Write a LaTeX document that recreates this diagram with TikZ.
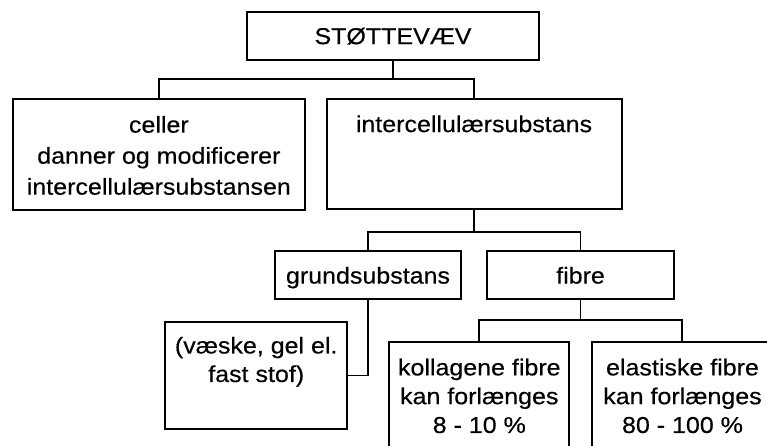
\documentclass[tikz,border=0pt]{standalone}
\usepackage{fontspec}
\setmainfont{Liberation Sans}[FakeStretch=1.087,FakeBold=0.4]
\begin{document}
\begin{tikzpicture}[x=1pt,y=-1pt,
  box/.style={draw, line width=1.8pt, rectangle, inner sep=0pt},
  onebox/.style={box, font=\fontsize{23}{28}\selectfont, text height=16.5pt, text depth=0pt},
  txt/.style={inner sep=0pt, anchor=north, align=center},
  link/.style={line width=1.8pt}]
\useasboundingbox (0,0) rectangle (767,445);

% boxes
\node[onebox, minimum width=292.6pt, minimum height=48.3pt] (top) at (393,35.85) {STØTTEVÆV};
\node[box, minimum width=292.3pt, minimum height=110.7pt] (celler) at (158.85,154.35) {};
\node[box, minimum width=295pt, minimum height=110.3pt] (inter) at (474.2,154.2) {};
\node[onebox, minimum width=186pt, minimum height=48pt] (grund) at (368,275.3) {grundsubstans};
\node[onebox, minimum width=187pt, minimum height=48pt] (fibre) at (580.5,275.3) {fibre};
\node[box, minimum width=182.3pt, minimum height=107.6pt] (vaeske) at (256.15,375.5) {};
\node[box, minimum width=180pt, minimum height=128.3pt] (koll) at (479.3,405.85) {};
\node[box, minimum width=180pt, minimum height=128.3pt] (elast) at (681.7,405.85) {};

% box texts
\node[txt, font=\fontsize{23}{31}\selectfont] (cellertxt) at (158.85,115.8)
  {celler\\danner og modificerer\\intercellulærsubstansen};
\node[txt, font=\fontsize{23}{28.8}\selectfont] (intertxt) at (474,115.2) {intercellulærsubstans};
\node[txt, font=\fontsize{23}{28.5}\selectfont] (vaesketxt) at (256.2,336.6)
  {(væske, gel el.\\fast stof)};
\node[txt, font=\fontsize{23}{28.8}\selectfont] (kolltxt) at (479.3,358.5)
  {kollagene fibre\\kan forlænges\\8 - 10 \%};
\node[txt, font=\fontsize{23}{28.8}\selectfont] (elasttxt) at (682.5,358.5)
  {elastiske fibre\\kan forlænges\\80 - 100 \%};

% junction points
\coordinate (j1) at (393,79.3);
\coordinate (j2) at (474.2,231.7);
\coordinate (j3) at (580.5,320);

% connectors
\draw[link] (top.south) -- (j1);
\draw[link] (celler.north) |- (j1) -| (inter.north);
\draw[link] (inter.south) -- (j2);
\draw[link] (grund.north) |- (j2) -| (fibre.north);
\draw[link] (grund.south) |- (vaeske.east);
\draw[link] (fibre.south) -- (j3);
\draw[link] (koll.north) |- (j3) -| (elast.north);
\end{tikzpicture}
\end{document}
